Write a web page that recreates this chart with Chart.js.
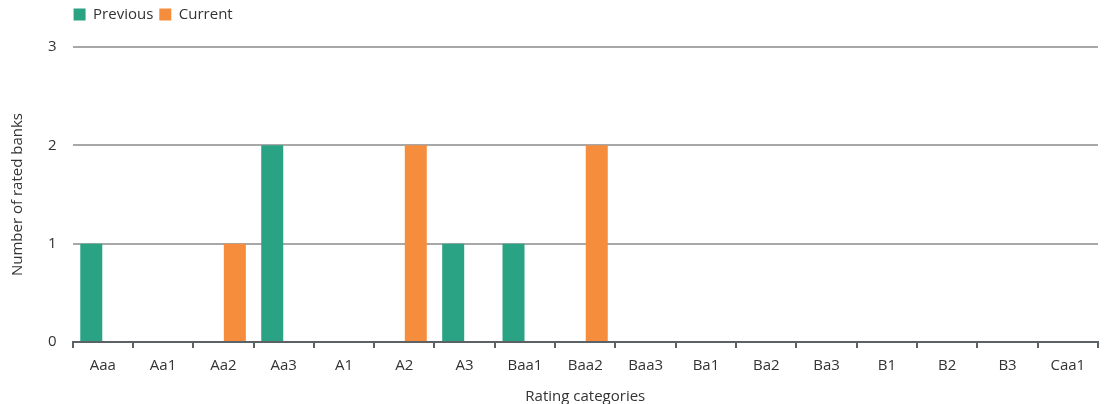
<!DOCTYPE html>
<html>
<head>
<meta charset="utf-8">
<script src="https://cdn.jsdelivr.net/npm/chart.js@4/dist/chart.umd.min.js"></script>
<style>
  html, body { margin: 0; padding: 0; background: #fff; }
  #wrap { width: 1106px; height: 404px; position: relative; }
</style>
</head>
<body>
<div id="wrap"><canvas id="c"></canvas></div>
<script>
// Rating buckets on the horizontal axis
const categories = ['Aaa','Aa1','Aa2','Aa3','A1','A2','A3','Baa1','Baa2','Baa3','Ba1','Ba2','Ba3','B1','B2','B3','Caa1'];
// Number of rated banks per bucket
const previousCounts = [1,0,0,2,0,0,1,1,0,0,0,0,0,0,0,0,0];
const currentCounts  = [0,0,1,0,0,2,0,0,2,0,0,0,0,0,0,0,0];
const yTicks = [0,1,2,3];

const FONT = '"Open Sans", "Noto Sans", sans-serif';
const FS = 15;
const TEXT = '#333333';

// Start the legend at the plot's left edge and leave a gap under it
const legendPlace = {
  id: 'legendPlace',
  beforeInit(chart) {
    const lg = chart.legend;
    const fit = lg.fit;
    lg.fit = function () {
      fit.call(this);
      this.height += 16;
    };
  },
  afterLayout(chart) {
    const lg = chart.legend;
    const dx = chart.chartArea.left - lg.left - 5;
    lg.left += dx;
    lg.right += dx;
    lg.top += 1;
    lg.bottom += 1;
  }
};

new Chart(document.getElementById('c'), {
  type: 'bar',
  data: {
    labels: categories,
    datasets: [
      { label: 'Previous', data: previousCounts, backgroundColor: '#2aa384', barPercentage: 0.96, categoryPercentage: 0.76 },
      { label: 'Current',  data: currentCounts,  backgroundColor: '#f58d3c', barPercentage: 0.96, categoryPercentage: 0.76 }
    ]
  },
  plugins: [legendPlace],
  options: {
    responsive: true,
    maintainAspectRatio: false,
    animation: false,
    layout: { padding: { left: 9, right: 8, top: 0, bottom: 0 } },
    plugins: {
      legend: {
        position: 'top',
        align: 'start',
        labels: {
          boxWidth: 12, boxHeight: 12, padding: 6,
          color: TEXT, font: { family: FONT, size: FS }
        }
      },
      tooltip: { enabled: false }
    },
    scales: {
      x: {
        grid: { display: true, drawOnChartArea: false, drawTicks: true, tickLength: 6, color: '#5c6166', lineWidth: 2, offset: true },
        border: { display: true, color: '#5c6166', width: 2 },
        ticks: { color: TEXT, font: { family: FONT, size: FS }, padding: 9, maxRotation: 0, autoSkip: false },
        title: { display: true, text: 'Rating categories', color: TEXT, font: { family: FONT, size: FS }, padding: { top: 4, bottom: -2 } }
      },
      y: {
        min: 0, max: 3,
        afterBuildTicks(axis) { axis.ticks = yTicks.map(v => ({ value: v })); },
        grid: { color: '#a8a8a8', lineWidth: 2, drawTicks: false },
        border: { display: false },
        ticks: { color: TEXT, font: { family: FONT, size: FS }, padding: 16 },
        title: { display: true, text: 'Number of rated banks', color: TEXT, font: { family: FONT, size: FS }, padding: { top: 0, bottom: 5 } }
      }
    }
  }
});
</script>
</body>
</html>
